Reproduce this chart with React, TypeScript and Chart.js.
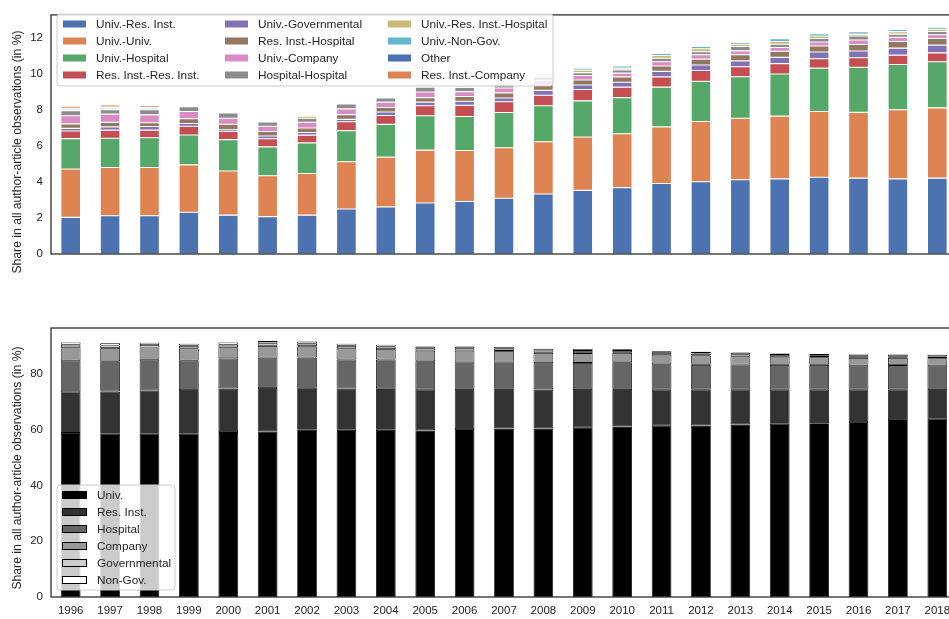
import React, { useEffect, useRef } from 'react';
import { Chart, registerables } from 'chart.js';
Chart.register(...registerables);

const years = ['1996','1997','1998','1999','2000','2001','2002','2003','2004','2005','2006','2007','2008','2009','2010','2011','2012','2013','2014','2015','2016','2017','2018'];

// Top chart: co-authorship combinations (share in %)
const univResInst = [2.04,2.13,2.13,2.32,2.16,2.08,2.16,2.50,2.62,2.84,2.92,3.10,3.34,3.54,3.69,3.92,4.02,4.13,4.18,4.27,4.22,4.18,4.22];
const univUniv = [2.69,2.68,2.68,2.64,2.46,2.27,2.32,2.63,2.77,2.94,2.84,2.81,2.90,2.97,3.00,3.15,3.35,3.42,3.49,3.66,3.66,3.84,3.91];
const univHospital = [1.69,1.63,1.66,1.66,1.74,1.61,1.70,1.73,1.82,1.91,1.89,1.96,2.01,2.01,2.01,2.21,2.24,2.31,2.34,2.41,2.51,2.52,2.56];
const resInstResInst = [0.42,0.45,0.42,0.49,0.45,0.45,0.43,0.50,0.49,0.56,0.62,0.60,0.58,0.63,0.58,0.57,0.60,0.56,0.58,0.53,0.53,0.52,0.50];
const univGovernmental = [0.15,0.18,0.20,0.15,0.10,0.15,0.15,0.13,0.20,0.20,0.23,0.21,0.27,0.25,0.27,0.31,0.30,0.32,0.35,0.37,0.37,0.39,0.43];
const resInstHospital = [0.25,0.25,0.21,0.26,0.31,0.25,0.25,0.26,0.25,0.25,0.26,0.28,0.30,0.28,0.30,0.30,0.33,0.35,0.33,0.33,0.36,0.37,0.37];
const univCompany = [0.45,0.46,0.44,0.41,0.33,0.30,0.31,0.32,0.30,0.31,0.27,0.27,0.25,0.25,0.21,0.23,0.25,0.21,0.22,0.22,0.25,0.23,0.21];
const hospitalHospital = [0.28,0.25,0.28,0.27,0.30,0.23,0.23,0.27,0.23,0.27,0.23,0.23,0.20,0.16,0.18,0.20,0.16,0.24,0.18,0.20,0.23,0.18,0.18];
const univResInstHospital = [0.02,0.03,0.02,0.05,0,0,0.12,0,0,0.05,0.04,0.06,0.08,0.14,0.10,0.15,0.17,0.13,0.15,0.14,0.10,0.14,0.12];
const univNonGov = [0.08,0.08,0.07,0.03,0,0,0,0,0,0.07,0.08,0.07,0.08,0.11,0.12,0.12,0.13,0.10,0.15,0.12,0.14,0.12,0.11];
const otherCombo = [0.04,0.03,0.03,0.02,0,0,0,0,0,0.03,0.03,0.03,0.03,0,0,0,0,0,0,0,0,0,0];
const resInstCompany = [0.11,0.12,0.11,0.05,0,0,0,0,0,0.05,0.03,0.03,0.03,0,0,0,0,0,0,0,0,0,0];

const topLabels = ['Univ.-Res. Inst.','Univ.-Univ.','Univ.-Hospital','Res. Inst.-Res. Inst.','Univ.-Governmental','Res. Inst.-Hospital','Univ.-Company','Hospital-Hospital','Univ.-Res. Inst.-Hospital','Univ.-Non-Gov.','Other','Res. Inst.-Company'];
const topColors = ['#4C72B0','#DD8452','#55A868','#C44E52','#8172B3','#937860','#DA8BC3','#8C8C8C','#CCB974','#64B5CD','#4C72B0','#DD8452'];
const topSeries = [univResInst,univUniv,univHospital,resInstResInst,univGovernmental,resInstHospital,univCompany,hospitalHospital,univResInstHospital,univNonGov,otherCombo,resInstCompany];
const topTicks = [0,2,4,6,8,10,12];

// Bottom chart: sector shares (%)
const univ = [58.8,58.5,58.5,58.5,59.1,59.3,59.9,59.9,59.9,59.7,60.2,60.4,60.4,60.8,61.1,61.4,61.5,61.8,62.1,62.3,62.7,63.4,63.9];
const resInst = [14.6,15.1,15.5,15.7,15.6,15.6,15.1,14.8,14.9,14.6,14.4,14.2,14.0,13.8,13.5,12.9,12.8,12.5,12.2,12.0,11.6,10.9,10.7];
const hospital = [11.3,10.9,11.0,10.5,10.8,10.9,10.8,10.4,10.3,10.2,9.8,9.8,9.4,9.3,9.5,9.1,8.9,9.0,8.9,8.9,8.6,8.8,8.3];
const company = [4.8,4.75,4.4,4.4,4.0,4.2,4.1,4.0,3.8,3.8,3.9,3.8,3.7,3.5,3.4,3.4,3.4,3.0,2.9,2.7,2.8,2.6,2.7];
const governmental = [0.9,0.9,0.9,0.9,0.9,0.9,0.9,0.9,0.8,0.8,0.8,0.8,0.8,0.8,0.7,0.7,0.7,0.7,0.6,0.6,0.6,0.6,0.6];
const nonGov = [0.8,0.8,0.8,0.8,0.8,0.8,0.8,0.8,0.7,0.7,0.7,0.7,0.7,0.7,0.6,0.6,0.6,0.6,0.6,0.6,0.6,0.6,0.6];

const bottomLabels = ['Univ.','Res. Inst.','Hospital','Company','Governmental','Non-Gov.'];
const bottomColors = ['#000000','#333333','#666666','#999999','#cccccc','#ffffff'];
const bottomSeries = [univ,resInst,hospital,company,governmental,nonGov];
const bottomTicks = [0,20,40,60,80];

const FONT = '"Liberation Sans", Arial, "DejaVu Sans", sans-serif';
const TEXT = '#262626';
const YTITLE = 'Share in all author-article observations (in %)';

const framePlugin = {
  id: 'frameLegend',
  afterDatasetsDraw(chart: any, _args: any, opts: any) {
    const { ctx, chartArea: a } = chart;
    ctx.save();
    ctx.strokeStyle = TEXT;
    ctx.lineWidth = 1.25;
    ctx.strokeRect(a.left, a.top, a.right - a.left, a.bottom - a.top);
    // y-axis title
    ctx.save();
    ctx.translate(opts.titleX, opts.titleY);
    ctx.rotate(-Math.PI / 2);
    ctx.font = `12.2px ${FONT}`;
    ctx.fillStyle = TEXT;
    ctx.textAlign = 'center';
    ctx.textBaseline = 'middle';
    ctx.fillText(YTITLE, 0, 0);
    ctx.restore();
    const L = opts && opts.box;
    if (L) {
      ctx.beginPath();
      const r = 3;
      ctx.moveTo(L.x + r, L.y);
      ctx.arcTo(L.x + L.w, L.y, L.x + L.w, L.y + L.h, r);
      ctx.arcTo(L.x + L.w, L.y + L.h, L.x, L.y + L.h, r);
      ctx.arcTo(L.x, L.y + L.h, L.x, L.y, r);
      ctx.arcTo(L.x, L.y, L.x + L.w, L.y, r);
      ctx.closePath();
      ctx.fillStyle = 'rgba(255,255,255,0.8)';
      ctx.fill();
      ctx.strokeStyle = '#cccccc';
      ctx.lineWidth = 1;
      ctx.stroke();
      ctx.font = `${opts.fontSize}px ${FONT}`;
      ctx.textBaseline = 'middle';
      ctx.textAlign = 'left';
      opts.labels.forEach((lab: string, i: number) => {
        const col = Math.floor(i / opts.rows);
        const row = i % opts.rows;
        const y = opts.y0 + row * opts.dy;
        const sx = opts.swatchX[col];
        ctx.fillStyle = opts.colors[i];
        ctx.fillRect(sx, y - opts.sh / 2, opts.sw, opts.sh);
        if (opts.swatchEdge) {
          ctx.strokeStyle = opts.swatchEdge;
          ctx.lineWidth = 1;
          ctx.strokeRect(sx + 0.5, y - opts.sh / 2 + 0.5, opts.sw - 1, opts.sh - 1);
        }
        ctx.fillStyle = TEXT;
        ctx.fillText(lab, opts.textX[col], y + 0.5);
      });
    }
    ctx.restore();
  },
};

function makeOptions(ymax: number, ticks: number[], showX: boolean, padTop: number, padBottom: number, legendOpts: any) {
  return {
    responsive: false,
    animation: false as const,
    layout: { padding: { left: 8, right: 13, top: padTop, bottom: padBottom } },
    plugins: {
      legend: { display: false },
      tooltip: { enabled: false },
      frameLegend: legendOpts,
    },
    scales: {
      x: {
        stacked: true,
        display: showX,
        offset: true,
        grid: { display: false, drawTicks: false },
        border: { display: false },
        ticks: { color: TEXT, font: { family: FONT, size: 11.5 }, padding: 7, maxRotation: 0, autoSkip: false },
        afterFit: (s: any) => { s.height = 22; },
      },
      y: {
        stacked: true,
        min: 0,
        max: ymax,
        grid: { display: false, drawTicks: false },
        border: { display: false },
        ticks: { color: TEXT, font: { family: FONT, size: 11.5 }, padding: 8 },
        afterBuildTicks: (s: any) => { s.ticks = ticks.map((v) => ({ value: v })); },
        afterFit: (s: any) => { s.width = 43; },
        title: { display: false },
      },
    },
  };
}

export default function App() {
  const topRef = useRef<HTMLCanvasElement>(null);
  const botRef = useRef<HTMLCanvasElement>(null);

  useEffect(() => {
    const top = new Chart(topRef.current!, {
      type: 'bar',
      data: {
        labels: years,
        datasets: topSeries.map((d, i) => ({
          label: topLabels[i],
          data: d,
          backgroundColor: topColors[i],
          borderColor: 'rgba(255,255,255,0.85)',
          borderWidth: 0.55,
          borderSkipped: false,
          barPercentage: 0.5,
          categoryPercentage: 1,
        })),
      },
      options: makeOptions(13.3, topTicks, false, 8, 24, {
        titleX: 18, titleY: 152,
        box: { x: 57, y: 14, w: 496, h: 72 },
        labels: topLabels, colors: topColors, rows: 4,
        y0: 24, dy: 17, swatchX: [63, 225, 388], textX: [96, 258, 421],
        sw: 23, sh: 7, fontSize: 11.8,
      }) as any,
      plugins: [framePlugin],
    });
    const bot = new Chart(botRef.current!, {
      type: 'bar',
      data: {
        labels: years,
        datasets: bottomSeries.map((d, i) => ({
          label: bottomLabels[i],
          data: d,
          backgroundColor: bottomColors[i],
          borderColor: '#000000',
          borderWidth: 0.8,
          borderSkipped: false,
          barPercentage: 0.5,
          categoryPercentage: 1,
        })),
      },
      options: makeOptions(96.4, bottomTicks, true, 28, 0, {
        titleX: 18, titleY: 168,
        box: { x: 57, y: 185, w: 118, h: 105 },
        labels: bottomLabels, colors: bottomColors, rows: 6,
        y0: 195, dy: 17, swatchX: [62], textX: [97],
        sw: 25, sh: 8, fontSize: 11.8, swatchEdge: '#000000',
      }) as any,
      plugins: [framePlugin],
    });
    return () => { top.destroy(); bot.destroy(); };
  }, []);

  return (
    <div style={{ position: 'fixed', left: 0, top: 0, width: 970, height: 619, background: '#fff', overflow: 'hidden' }}>
      <canvas ref={topRef} width={970} height={300} style={{ position: 'absolute', left: 0, top: 0, width: 970, height: 300 }} />
      <canvas ref={botRef} width={970} height={319} style={{ position: 'absolute', left: 0, top: 300, width: 970, height: 319 }} />
    </div>
  );
}
